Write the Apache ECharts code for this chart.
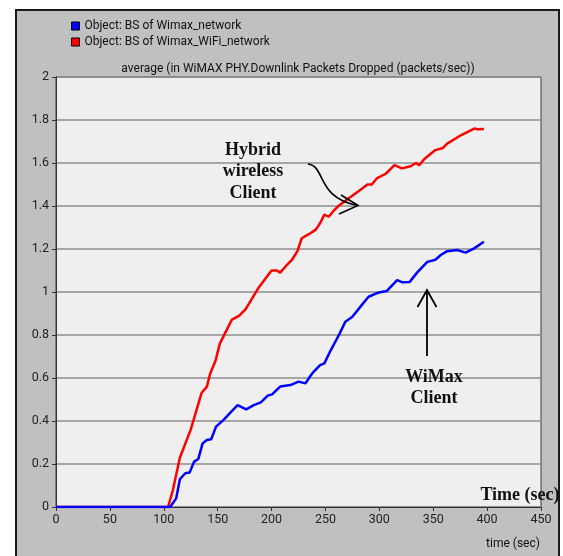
<!DOCTYPE html>
<html>
<head>
<meta charset="utf-8">
<script src="https://cdn.jsdelivr.net/npm/echarts@6/dist/echarts.min.js"></script>
<style>
html,body{margin:0;padding:0;background:#ffffff;}
#chart{width:563px;height:556px;}
</style>
</head>
<body>
<div id="chart"></div>
<script>
// ---- data ----
const seriesNames = ['Object: BS of Wimax_network', 'Object: BS of Wimax_WiFi_network'];
const chartTitle = 'average (in WiMAX PHY.Downlink Packets Dropped (packets/sec))';
const xAxisName = 'time (sec)';

const wimaxTime = [0,106,111.5,115,120,124,128,132,136,140,144,148.5,155.5,162,168.5,176.5,183.5,190,196.5,200.5,208,217.5,225,231.5,236,239,245,249,255,262.5,268.5,275,282.5,290,299.5,307,316.5,321.5,328,335,344.5,352,357,363,372.5,380,388,397];
const wimaxValue = [0,0,0.04,0.13,0.157,0.16,0.21,0.223,0.296,0.312,0.315,0.374,0.405,0.44,0.474,0.454,0.474,0.487,0.518,0.524,0.56,0.567,0.583,0.575,0.609,0.629,0.66,0.668,0.73,0.80,0.862,0.885,0.932,0.978,0.998,1.005,1.055,1.045,1.046,1.09,1.14,1.15,1.172,1.19,1.195,1.183,1.203,1.234];

const hybridTime = [0,104,108.5,115,125,135,140,143,148,152,157,163,170,176,182,188,194,200,205,208,215,219,224,228,235,241,245,249,253,258,262,270,281,289,293,298,306,314,321,329,334,337,342,352,359,363,376,388,391,397];
const hybridValue = [0,0,0.08,0.23,0.36,0.53,0.56,0.62,0.68,0.76,0.81,0.87,0.89,0.92,0.97,1.02,1.06,1.10,1.10,1.09,1.13,1.15,1.19,1.25,1.27,1.29,1.32,1.36,1.35,1.38,1.40,1.43,1.47,1.50,1.50,1.53,1.55,1.59,1.575,1.585,1.60,1.59,1.62,1.66,1.67,1.69,1.73,1.76,1.757,1.758];

const hybridLabel = ['Hybrid', 'wireless', 'Client'];
const wimaxLabel = ['WiMax', 'Client'];
const timeLabel = 'Time (sec)';

function pairs(t, v) { return t.map((x, i) => [x, v[i]]); }

const chart = echarts.init(document.getElementById('chart'), null, {renderer: 'canvas'});
const sansFont = "Roboto, 'Liberation Sans', Arial, sans-serif";
const serifFont = "'Liberation Serif', 'Times New Roman', serif";

const option = {
  backgroundColor: '#ffffff',
  animation: false,
  legend: {
    orient: 'vertical',
    left: 66,
    top: 15,
    itemWidth: 8,
    itemHeight: 8,
    itemGap: 4,
    selectedMode: false,
    textStyle: {fontSize: 12, fontFamily: sansFont, color: '#111'},
    data: [
      {name: seriesNames[0], icon: 'rect', itemStyle: {color: '#0000ff', borderColor: '#000', borderWidth: 1}},
      {name: seriesNames[1], icon: 'rect', itemStyle: {color: '#ff0000', borderColor: '#000', borderWidth: 1}}
    ]
  },
  grid: {
    left: 56, top: 77, width: 485, height: 430,
    show: true, backgroundColor: '#efefef', borderColor: '#3a3a3a', borderWidth: 1
  },
  xAxis: {
    type: 'value', min: 0, max: 450, interval: 50,
    axisLine: {show: true, lineStyle: {color: '#333', width: 1}},
    axisTick: {show: true, length: 4, lineStyle: {color: '#333'}},
    axisLabel: {fontSize: 12.5, fontFamily: sansFont, color: '#222', margin: 6},
    splitLine: {show: false}
  },
  yAxis: {
    type: 'value', min: 0, max: 2, interval: 0.2,
    axisLine: {show: true, lineStyle: {color: '#333', width: 1}},
    axisTick: {show: true, length: 4, lineStyle: {color: '#333'}},
    axisLabel: {fontSize: 12.5, fontFamily: sansFont, color: '#222', margin: 7},
    splitLine: {show: true, lineStyle: {color: '#8e8e8e', width: 1.5}}
  },
  series: [
    {name: seriesNames[1], type: 'line', showSymbol: false, data: pairs(hybridTime, hybridValue),
     lineStyle: {color: '#ff0000', width: 2.5}, itemStyle: {color: '#ff0000'}, z: 3},
    {name: seriesNames[0], type: 'line', showSymbol: false, data: pairs(wimaxTime, wimaxValue),
     lineStyle: {color: '#0000ff', width: 2.5}, itemStyle: {color: '#0000ff'}, z: 4}
  ],
  graphic: [
    {type: 'rect', z: -100, shape: {x: 16, y: 10, width: 543, height: 560},
     style: {fill: '#c0c0c0', stroke: '#1a1a1a', lineWidth: 2}},
    {type: 'text', x: 298, y: 69, z: 5,
     style: {text: chartTitle, fontSize: 12, fontFamily: sansFont, fill: '#111', textAlign: 'center', textVerticalAlign: 'middle'}},
    {type: 'text', x: 513, y: 544, z: 5,
     style: {text: xAxisName, fontSize: 12, fontFamily: sansFont, fill: '#111', textAlign: 'center', textVerticalAlign: 'middle'}},
    {type: 'text', x: 253, y: 150, z: 10,
     style: {text: hybridLabel[0], fontSize: 18, fontWeight: 'bold', fontFamily: serifFont, fill: '#111', textAlign: 'center', textVerticalAlign: 'middle'}},
    {type: 'text', x: 253, y: 171.5, z: 10,
     style: {text: hybridLabel[1], fontSize: 18, fontWeight: 'bold', fontFamily: serifFont, fill: '#111', textAlign: 'center', textVerticalAlign: 'middle'}},
    {type: 'text', x: 253, y: 193, z: 10,
     style: {text: hybridLabel[2], fontSize: 18, fontWeight: 'bold', fontFamily: serifFont, fill: '#111', textAlign: 'center', textVerticalAlign: 'middle'}},
    {type: 'text', x: 434, y: 377, z: 10,
     style: {text: wimaxLabel[0], fontSize: 18, fontWeight: 'bold', fontFamily: serifFont, fill: '#111', textAlign: 'center', textVerticalAlign: 'middle'}},
    {type: 'text', x: 434, y: 398, z: 10,
     style: {text: wimaxLabel[1], fontSize: 18, fontWeight: 'bold', fontFamily: serifFont, fill: '#111', textAlign: 'center', textVerticalAlign: 'middle'}},
    {type: 'text', x: 520, y: 495, z: 10,
     style: {text: timeLabel, fontSize: 18, fontWeight: 'bold', fontFamily: serifFont, fill: '#111', textAlign: 'center', textVerticalAlign: 'middle'}},
    {type: 'bezierCurve', z: 10,
     shape: {x1: 308, y1: 164, cpx1: 326, cpy1: 166, cpx2: 316, cpy2: 198, x2: 358, y2: 205.5},
     style: {stroke: '#000', lineWidth: 1.6, fill: null}},
    {type: 'polyline', z: 10, shape: {points: [[341, 195], [358, 205.5], [339, 214]]},
     style: {stroke: '#000', lineWidth: 1.6, fill: null}},
    {type: 'line', z: 10, shape: {x1: 427, y1: 291, x2: 427, y2: 356},
     style: {stroke: '#000', lineWidth: 1.8}},
    {type: 'polyline', z: 10, shape: {points: [[417.5, 307], [427, 290], [436.5, 307]]},
     style: {stroke: '#000', lineWidth: 1.8, fill: null}}
  ]
};
chart.setOption(option);
</script>
</body>
</html>
